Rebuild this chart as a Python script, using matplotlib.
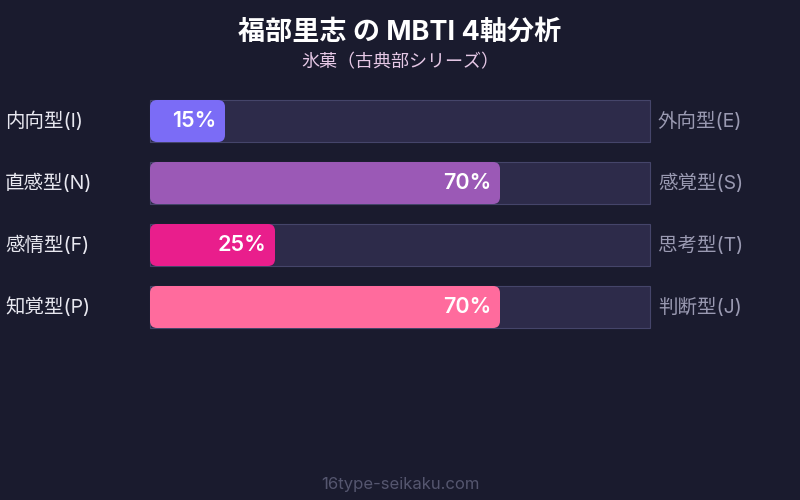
import matplotlib.pyplot as plt
from matplotlib.patches import FancyBboxPatch, Rectangle

plt.rcParams['font.family'] = ['Inter', 'Noto Sans CJK JP', 'DejaVu Sans']

# data
left_labels = ["内向型(I)", "直感型(N)", "感情型(F)", "知覚型(P)"]
right_labels = ["外向型(E)", "感覚型(S)", "思考型(T)", "判断型(J)"]
values = [15, 70, 25, 70]
colors = ["#7b6cf6", "#9b59b6", "#e91e8c", "#ff6b9d"]

bg = "#1a1b2e"
fig = plt.figure(figsize=(8, 5), dpi=100, facecolor=bg)
ax = fig.add_axes([0, 0, 1, 1])
ax.set_facecolor(bg)
ax.set_xlim(0, 800)
ax.set_ylim(500, 0)
ax.axis("off")

x0, width, h = 150, 500, 42
top, step = 100, 62

for i, (ll, rl, v, c) in enumerate(zip(left_labels, right_labels, values, colors)):
    y = top + i * step
    ax.add_patch(Rectangle((x0, y), width, h, facecolor="#2d2b4a",
                           edgecolor="#45456a", linewidth=0.8))
    w = width * v / 100
    ax.add_patch(FancyBboxPatch((x0, y), w, h,
                                boxstyle="round,pad=0,rounding_size=7",
                                facecolor=c, edgecolor="none"))
    ax.text(w + x0 - 9, y + h / 2, f"{v}%", color="white", fontsize=15.5,
            fontweight="semibold", ha="right", va="center")
    ax.text(5, y + h / 2, ll, color="#e8e8f0", fontsize=14,
            ha="left", va="center")
    ax.text(658, y + h / 2, rl, color="#9a9ab2", fontsize=14,
            ha="left", va="center")

ax.text(400, 33, "福部里志 の MBTI 4軸分析", color="white", fontsize=19.5,
        fontweight="bold", ha="center", va="center")
ax.text(400, 63, "氷菓（古典部シリーズ）", color="#e6c8e6", fontsize=13,
        ha="center", va="center")
ax.text(400, 484, "16type-seikaku.com", color="#55566f", fontsize=12,
        ha="center", va="center")

fig.savefig("out.png", dpi=100, facecolor=bg)
